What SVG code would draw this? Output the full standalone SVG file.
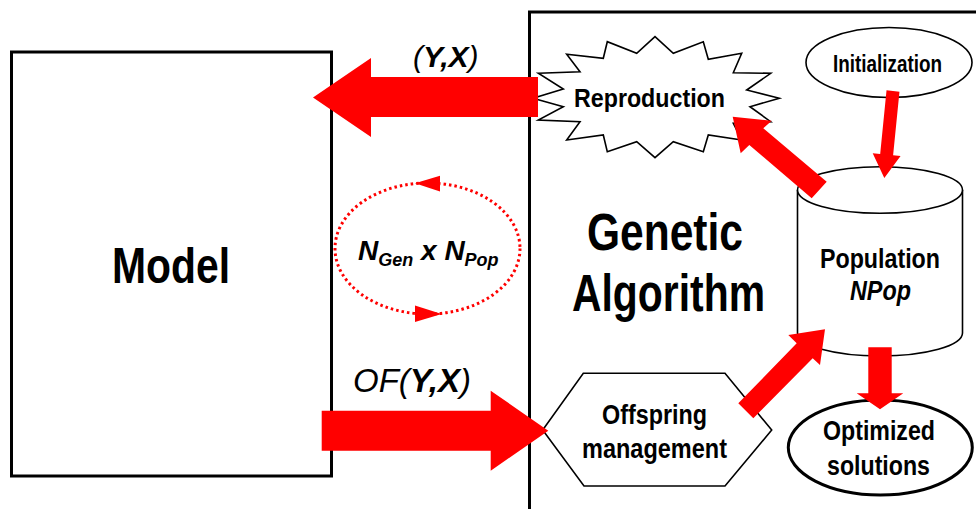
<svg xmlns="http://www.w3.org/2000/svg" width="976" height="509" viewBox="0 0 976 509">
<style>
.lbl{font-family:"Liberation Sans",Arial,sans-serif;font-weight:bold;fill:#000}
.it{font-style:italic}
.nb{font-weight:normal}
.arrow{fill:#ff0000;stroke:none}
.shape{fill:#fff;stroke:#000;stroke-width:1.6}
</style>
<rect width="976" height="509" fill="#fff"/>
<g id="genetic-algorithm">
<rect x="529.5" y="12" width="460" height="510" fill="#fff" stroke="#000" stroke-width="3"/>
<text class="lbl" x="587" y="250" font-size="51" textLength="156" lengthAdjust="spacingAndGlyphs">Genetic</text>
<text class="lbl" x="572" y="311" font-size="51" textLength="193" lengthAdjust="spacingAndGlyphs">Algorithm</text>
</g>
<g id="model">
<rect x="11.5" y="52" width="320" height="424" fill="#fff" stroke="#000" stroke-width="3"/>
<text class="lbl" x="112" y="283" font-size="50" textLength="118" lengthAdjust="spacingAndGlyphs">Model</text>
</g>
<g id="reproduction">
<polygon class="shape" points="538.3,73.3 580,71.7 566.7,54.3 603.3,58.3 607.3,41.7 636.7,53.3 655,36.7 673.3,53.3 703.3,41.7 708.3,59.3 741.7,53.3 733.3,72.7 770.7,73.3 746.7,90 779.3,98.3 750,106.7 770.7,121.7 733.3,123.3 741.7,140 708.3,135 703.3,151.7 673.3,141.7 655,157.7 636.7,141.7 607.3,151.7 603.3,135 566.7,140 580,121.7 538.3,120 563.3,106.7 533,98.3 563.3,89"/>
<text class="lbl" x="574" y="107" font-size="26" textLength="151" lengthAdjust="spacingAndGlyphs">Reproduction</text>
</g>
<g id="initialization">
<ellipse class="shape" cx="889" cy="62.5" rx="83" ry="35"/>
<text class="lbl" x="833" y="71.5" font-size="23" textLength="109" lengthAdjust="spacingAndGlyphs">Initialization</text>
</g>
<g id="population">
<path class="shape" d="M797.5,190 V333 A82.5,23 0 0 0 962.5,333 V190"/>
<ellipse class="shape" cx="880" cy="190" rx="82.5" ry="23.3"/>
<text class="lbl" x="820" y="267.5" font-size="27" textLength="120" lengthAdjust="spacingAndGlyphs">Population</text>
<text class="lbl it" x="850" y="300" font-size="27" textLength="61" lengthAdjust="spacingAndGlyphs">NPop</text>
</g>
<g id="offspring">
<polygon class="shape" points="542.7,430 583.3,373.3 725,373.3 771.7,430 725,486 584,486"/>
<text class="lbl" x="602" y="424" font-size="27" textLength="105" lengthAdjust="spacingAndGlyphs">Offspring</text>
<text class="lbl" x="582" y="458.3" font-size="27" textLength="145" lengthAdjust="spacingAndGlyphs">management</text>
</g>
<g id="optimized">
<ellipse cx="880.3" cy="447.5" rx="92" ry="47.5" fill="#fff" stroke="#000" stroke-width="3"/>
<text class="lbl" x="823" y="440" font-size="28" textLength="112" lengthAdjust="spacingAndGlyphs">Optimized</text>
<text class="lbl" x="827" y="475" font-size="28" textLength="103" lengthAdjust="spacingAndGlyphs">solutions</text>
</g>
<g id="connectors">
<polygon class="arrow" points="538,77 371,77 371,58 313,97.5 371,137 371,117 538,117"/>
<text class="lbl it nb" x="413" y="67" font-size="30">(<tspan font-weight="bold">Y,X</tspan>)</text>
<polygon class="arrow" points="321.7,410.7 490.7,410.7 490.7,390.7 548.3,430.7 490.7,470.7 490.7,450.7 321.7,450.7"/>
<text class="lbl it nb" x="353" y="391.5" font-size="33">OF(<tspan font-weight="bold">Y,X</tspan>)</text>
<polygon class="arrow" points="732.7,116.7 771.7,120.7 763.3,128.3 826.7,181.7 811.7,198.3 749.3,145 740.7,153.3"/>
<polygon class="arrow" transform="translate(893,91) rotate(5.7)" points="-6.5,0 6.5,0 6.5,64 14,64 0,87.5 -14,64 -6.5,64"/>
<polygon class="arrow" points="825,329.3 788.3,335 796.7,343.3 738.3,403.3 753.3,418.3 812.7,358.3 820,365"/>
<polygon class="arrow" points="868.3,347.3 891.7,347.3 891.7,393.3 903.3,393.3 880,409.3 856.7,393.3 868.3,393.3"/>
<ellipse cx="427.5" cy="248.5" rx="92.5" ry="65.5" fill="none" stroke="#ff0000" stroke-width="3" stroke-dasharray="2.5 3"/>
<polygon class="arrow" points="415,183.3 440,175.7 440,191.5"/>
<polygon class="arrow" points="441.7,314 415,305.5 415,322"/>
<text class="lbl it" x="358" y="260" font-size="28">N<tspan font-size="18" dy="6">Gen</tspan><tspan dy="-6"> x N</tspan><tspan font-size="18" dy="6">Pop</tspan></text>
</g>
</svg>
